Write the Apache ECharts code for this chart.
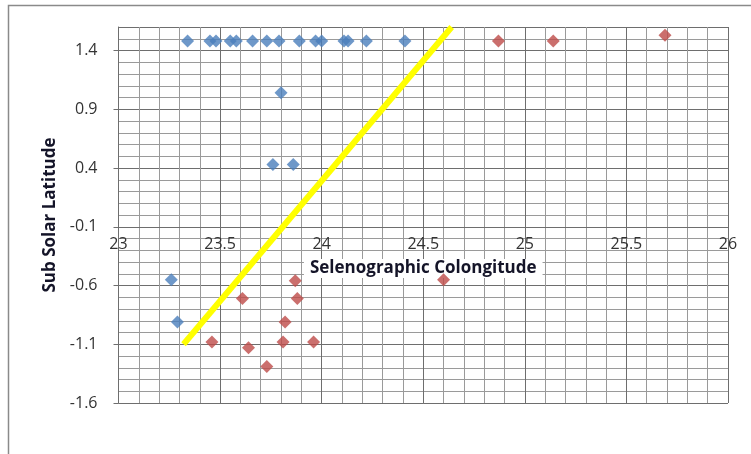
<!DOCTYPE html>
<html>
<head>
<meta charset="utf-8">
<script src="https://cdn.jsdelivr.net/npm/echarts@6/dist/echarts.min.js"></script>
<style>html,body{margin:0;padding:0;background:#fff}#c{width:751px;height:454px}</style>
</head>
<body>
<div id="c"></div>
<script>
// Blue series (x = Selenographic Colongitude, y = Sub Solar Latitude)
const blueX = [23.34, 23.45, 23.48, 23.55, 23.58, 23.66, 23.73, 23.79, 23.89, 23.97, 24.00, 24.11, 24.13, 24.22, 24.41, 23.80, 23.76, 23.86, 23.26, 23.29];
const blueY = [1.48, 1.48, 1.48, 1.48, 1.48, 1.48, 1.48, 1.48, 1.48, 1.48, 1.48, 1.48, 1.48, 1.48, 1.48, 1.04, 0.43, 0.43, -0.55, -0.91];
// Red series
const redX = [23.46, 23.61, 23.64, 23.73, 23.81, 23.82, 23.87, 23.88, 23.96, 24.60, 24.87, 25.14, 25.69];
const redY = [-1.08, -0.71, -1.13, -1.29, -1.08, -0.91, -0.56, -0.71, -1.08, -0.55, 1.48, 1.48, 1.53];
// Yellow dividing line
const lineX = [23.32, 24.64];
const lineY = [-1.1, 1.6];

const xTitle = 'Selenographic Colongitude';
const yTitle = 'Sub Solar Latitude';

const zip = (a, b) => a.map((v, i) => [v, b[i]]);
const font = '"Open Sans", sans-serif';
const minorColor = '#9a9a9a';
const majorColor = '#6e6e6e';

const chart = echarts.init(document.getElementById('c'), null, {renderer: 'canvas'});
chart.setOption({
  animation: false,
  backgroundColor: '#ffffff',
  grid: {left: 118.5, right: 23, top: 27, bottom: 51, containLabel: false},
  graphic: [{
    type: 'rect', z: -10, silent: true,
    shape: {x: 8.5, y: 5.5, width: 800, height: 500},
    style: {fill: null, stroke: '#8a8a8a', lineWidth: 1.5}
  }],
  xAxis: [{
    type: 'value', min: 23, max: 26, interval: 0.1,
    axisLine: {show: false}, axisTick: {show: false}, axisLabel: {show: false},
    splitLine: {show: true, lineStyle: {color: minorColor, width: 1}}
  }, {
    type: 'value', min: 23, max: 26, interval: 0.5, position: 'bottom', offset: -176,
    axisLine: {show: true, onZero: false, lineStyle: {color: majorColor, width: 1}},
    axisTick: {show: false},
    axisLabel: {color: '#333333', fontSize: 16, fontFamily: font, margin: 9},
    splitLine: {show: true, lineStyle: {color: majorColor, width: 1}},
    name: xTitle, nameLocation: 'middle', nameGap: 32,
    nameTextStyle: {color: '#141428', fontSize: 17, fontWeight: 'bold', fontFamily: font,
      backgroundColor: '#ffffff', padding: [1, 6]}
  }],
  yAxis: [{
    type: 'value', min: -1.6, max: 1.6, interval: 0.1,
    axisLine: {show: false}, axisTick: {show: false}, axisLabel: {show: false},
    splitLine: {show: true, lineStyle: {color: minorColor, width: 1}}
  }, {
    type: 'value', min: -1.6, max: 1.6, interval: 0.5, position: 'left',
    axisLine: {show: true, onZero: false, lineStyle: {color: majorColor, width: 1}},
    axisTick: {show: true, length: 5, lineStyle: {color: majorColor}},
    axisLabel: {color: '#333333', fontSize: 16, fontFamily: font, margin: 21, showMaxLabel: false},
    splitLine: {show: true, lineStyle: {color: majorColor, width: 1}},
    name: yTitle, nameLocation: 'middle', nameGap: 60, nameRotate: 90,
    nameTextStyle: {color: '#141428', fontSize: 17, fontWeight: 'bold', fontFamily: font}
  }],
  series: [{
    type: 'scatter', xAxisIndex: 0, yAxisIndex: 0,
    symbol: 'diamond', symbolSize: 13,
    itemStyle: {color: '#4a7ebb'},
    data: zip(blueX, blueY)
  }, {
    type: 'scatter', xAxisIndex: 0, yAxisIndex: 0,
    symbol: 'diamond', symbolSize: 13,
    itemStyle: {color: '#be4b48'},
    data: zip(redX, redY)
  }, {
    type: 'line', xAxisIndex: 0, yAxisIndex: 0, z: 1,
    showSymbol: false, symbol: 'none',
    lineStyle: {color: '#ffff00', width: 6},
    data: zip(lineX, lineY)
  }]
});
</script>
</body>
</html>
